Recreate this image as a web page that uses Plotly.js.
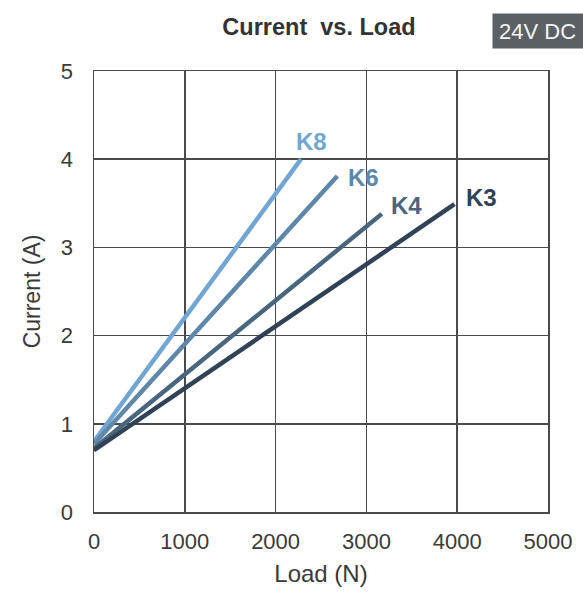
<!DOCTYPE html>
<html>
<head>
<meta charset="utf-8">
<script src="https://cdn.plot.ly/plotly-3.0.1.min.js"></script>
<style>html,body{margin:0;padding:0;background:#fff;overflow:hidden}</style>
</head>
<body>
<div id="chart" style="width:583px;height:596px"></div>
<script>
// Series names
const seriesNames = ["K8", "K6", "K4", "K3"];
// Load (N) at start and end of each line
const loadK8 = [0, 2280];
const loadK6 = [0, 2680];
const loadK4 = [0, 3170];
const loadK3 = [0, 3970];
// Current (A)
const currentK8 = [0.80, 4.00];
const currentK6 = [0.77, 3.81];
const currentK4 = [0.72, 3.38];
const currentK3 = [0.70, 3.49];
// Tick labels
const xTicks = [0, 1000, 2000, 3000, 4000, 5000];
const yTicks = [0, 1, 2, 3, 4, 5];

const FONT = "Liberation Sans, Arial, sans-serif";
const colors = ["#72a6d2", "#5e87aa", "#49667f", "#304356"];
const xs = [loadK8, loadK6, loadK4, loadK3];
const ys = [currentK8, currentK6, currentK4, currentK3];
const labelOffset = [[110, 0.20], [290, -0.02], [270, 0.10], [295, 0.08]];

const traces = seriesNames.map((n, i) => ({
  type: "scatter", mode: "lines", name: n,
  x: xs[i], y: ys[i],
  line: {color: colors[i], width: 4.5},
  hoverinfo: "skip"
}));

const annotations = seriesNames.map((n, i) => ({
  xref: "x", yref: "y",
  x: xs[i][1] + labelOffset[i][0], y: ys[i][1] + labelOffset[i][1],
  text: "<b>" + n + "</b>", showarrow: false,
  font: {family: FONT, size: 24, color: colors[i]}
}));
annotations.push({
  xref: "paper", yref: "paper", x: (492 - 94) / 454, y: 1 + (71 - 13) / 441,
  xanchor: "left", yanchor: "top",
  width: 100, height: 34, align: "left", valign: "middle",
  text: "&nbsp;24V DC", showarrow: false,
  bgcolor: "#5b6064", borderpad: 0,
  font: {family: FONT, size: 22, color: "#f4f4f4"}
});

const axisCommon = {
  showgrid: true, gridcolor: "#4a4a4a", gridwidth: 1.5,
  showline: true, linecolor: "#4a4a4a", linewidth: 1.5, mirror: true,
  zeroline: false, ticks: "", fixedrange: true,
  tickfont: {family: FONT, size: 22, color: "#3a3a3a"}
};

const layout = {
  width: 583, height: 596,
  margin: {l: 94, r: 35, t: 71, b: 84},
  paper_bgcolor: "#ffffff", plot_bgcolor: "#ffffff",
  showlegend: false,
  title: {
    text: "<b>Current&nbsp; vs. Load</b>",
    x: 319 / 583, xanchor: "center", y: 1 - 27 / 596, yanchor: "middle",
    font: {family: FONT, size: 23.5, color: "#333333"}
  },
  xaxis: Object.assign({}, axisCommon, {
    range: [0, 5000], tickvals: xTicks, ticktext: xTicks.map(String),
    ticklabelstandoff: 9,
    title: {text: "Load (N)", standoff: 12,
      font: {family: FONT, size: 24, color: "#3a3a3a"}}
  }),
  yaxis: Object.assign({}, axisCommon, {
    range: [0, 5], tickvals: yTicks, ticktext: yTicks.map(String),
    ticklabelstandoff: 15,
    title: {text: "Current (A)", standoff: 14,
      font: {family: FONT, size: 23, color: "#3a3a3a"}}
  }),
  annotations: annotations
};

Plotly.newPlot("chart", traces, layout, {displayModeBar: false, staticPlot: true});
</script>
</body>
</html>
